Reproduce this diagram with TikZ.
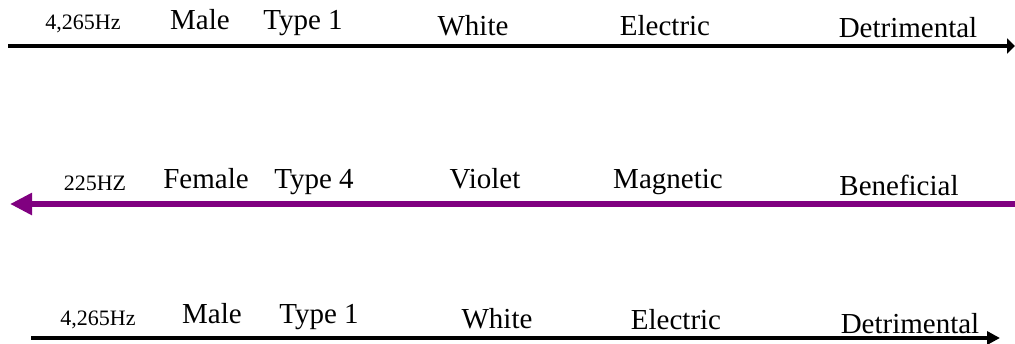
\documentclass[tikz,border=0pt]{standalone}
\usepackage{fontspec}
\setmainfont{Liberation Serif}
\usetikzlibrary{arrows.meta}
\definecolor{violetline}{RGB}{128,0,128}
\begin{document}
\begin{tikzpicture}[x=1pt,y=-1pt,
  word/.style={anchor=base,inner sep=0pt,font=\fontsize{29}{34}\selectfont},
  freq/.style={anchor=base,inner sep=0pt,font=\fontsize{22}{26}\selectfont}]
\useasboundingbox (0,0) rectangle (1015,343);

% top line
\coordinate (topL) at (8,46);
\coordinate (topR) at (1015,46);
\draw[line width=4pt,-{Triangle[length=8pt,width=15pt]}] (topL)--(topR);
\node[freq] (hzTop) at (83,29) {4,265Hz};
\node[word] (sexTop) at (200,29) {Male};
\node[word] (typeTop) at (303,29) {Type 1};
\node[word] (colTop) at (473,35) {White};
\node[word] (kindTop) at (665,35) {Electric};
\node[word] (effTop) at (908,37) {Detrimental};

% middle line
\coordinate (midR) at (1015,204);
\coordinate (midL) at (10,204);
\draw[violetline,line width=6pt,-{Triangle[length=22pt,width=21pt]}] (midR)--(midL);
\node[freq] (hzMid) at (95,190) {225HZ};
\node[word] (sexMid) at (206,188) {Female};
\node[word] (typeMid) at (314,188) {Type 4};
\node[word] (colMid) at (485,188) {Violet};
\node[word] (kindMid) at (668,188) {Magnetic};
\node[word] (effMid) at (899,195) {Beneficial};

% bottom line
\coordinate (botL) at (31,338);
\coordinate (botR) at (1000,338);
\draw[line width=4pt,-{Triangle[length=13pt,width=13pt]}] (botL)--(botR);
\node[freq] (hzBot) at (98,325) {4,265Hz};
\node[word] (sexBot) at (212,323) {Male};
\node[word] (typeBot) at (319,323) {Type 1};
\node[word] (colBot) at (497,328) {White};
\node[word] (kindBot) at (676,329) {Electric};
\node[word] (effBot) at (910,333) {Detrimental};
\end{tikzpicture}
\end{document}
